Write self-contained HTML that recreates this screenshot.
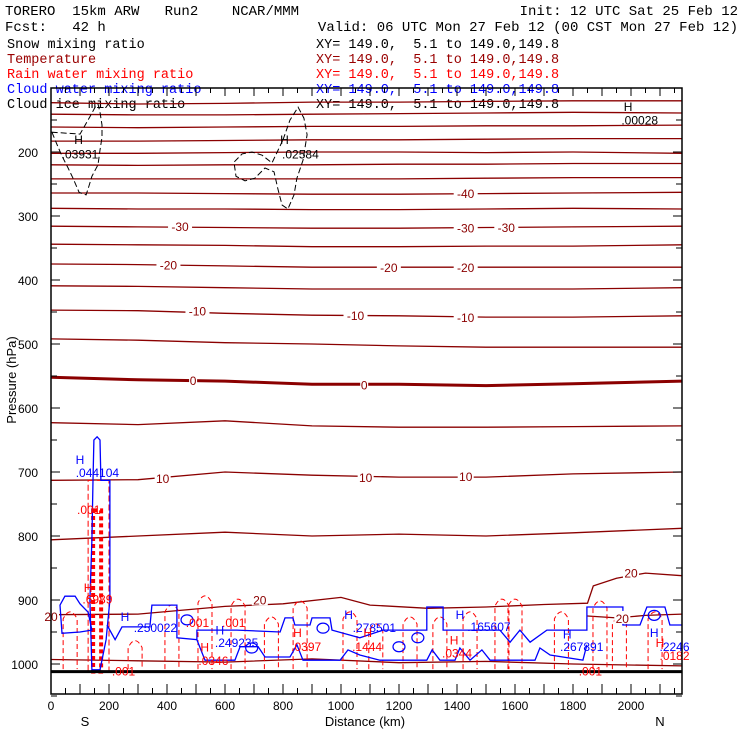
<!DOCTYPE html>
<html><head><meta charset="utf-8"><style>
html,body{margin:0;padding:0;background:#fff;}
svg{display:block;font-family:"Liberation Sans",sans-serif;}
.mono{font-family:"Liberation Mono",monospace;}
</style></head><body>
<svg id="chart" width="740" height="740" viewBox="0 0 740 740" xmlns="http://www.w3.org/2000/svg">
<rect width="740" height="740" fill="#fff"/>
<g class="mono" font-size="14">
<text x="5" y="15" xml:space="preserve">TORERO  15km ARW   Run2    NCAR/MMM</text>
<text x="738" y="15" text-anchor="end">Init: 12 UTC Sat 25 Feb 12</text>
<text x="5" y="31" xml:space="preserve">Fcst:   42 h</text>
<text x="738" y="31" text-anchor="end">Valid: 06 UTC Mon 27 Feb 12 (00 CST Mon 27 Feb 12)</text>
<g font-size="13.5">
<text x="7" y="48" fill="#000">Snow mixing ratio</text>
<text x="316" y="48" fill="#000" xml:space="preserve">XY= 149.0,  5.1 to 149.0,149.8</text>
<text x="7" y="63" fill="#990000">Temperature</text>
<text x="316" y="63" fill="#990000" xml:space="preserve">XY= 149.0,  5.1 to 149.0,149.8</text>
<text x="7" y="78" fill="#ff0000">Rain water mixing ratio</text>
<text x="316" y="78" fill="#ff0000" xml:space="preserve">XY= 149.0,  5.1 to 149.0,149.8</text>
<text x="7" y="93" fill="#0000ff">Cloud water mixing ratio</text>
<text x="316" y="93" fill="#0000ff" xml:space="preserve">XY= 149.0,  5.1 to 149.0,149.8</text>
<text x="7" y="108" fill="#000">Cloud ice mixing ratio</text>
<text x="316" y="108" fill="#000" xml:space="preserve">XY= 149.0,  5.1 to 149.0,149.8</text>
</g>
</g>
<g id="plot"></g>
<g id="axes"></g>
</svg>
<script>
// ---- data ----
const xSamples = [0, 300, 600, 900, 1200, 1500, 1800, 2176];
const tempLevels = [-75,-70,-65,-60,-55,-50,-45,-40,-35,-30,-25,-20,-15,-10,-5,0,5,10,15];
const tempP = [
 [123,125,124,122,122,121,120,120],
 [141,142,142,141,140,139,138,139],
 [161,162,161,160,160,159,159,158],
 [183,183,182,181,181,180,179,179],
 [202,202,201,200,200,201,200,202],
 [220,221,220,220,219,219,218,218],
 [242,242,242,242,242,241,240,240],
 [264,264,265,266,266,265,264,263],
 [288,289,289,290,290,289,288,289],
 [316,317,318,319,319,318,317,316],
 [344,345,346,348,348,347,347,345],
 [375,376,378,380,380,380,380,380],
 [409,410,412,414,414,414,414,412],
 [447,448,452,455,456,458,458,456],
 [492,494,498,500,503,505,505,505],
 [552,556,558,563,563,565,562,558],
 [623,626,620,628,630,630,629,628],
 [713,712,700,705,708,708,703,700],
 [806,800,794,800,797,800,795,788]
];
const t20Km = [0,300,600,800,1000,1100,1300,1500,1700,1850,1870,1950,2050,2176];
const t20P = [923,922,910,906,896,908,913,911,907,905,878,866,858,862];
const t20bKm = [1850,1950,2050,2176];
const t20bP = [925,928,924,922];
const t25Km = [0,300,600,900,1200,1500,1800,2176];
const t25P = [993,995,997,992,998,996,1000,1003];
const groundP = 1012;
const tempLabels = [[-40,1430,264],[-30,445,316],[-30,1430,318],[-30,1570,317],[-20,405,376],[-20,1165,380],[-20,1430,380],[-10,505,448],[-10,1050,455],[-10,1430,458],[0,490,556],[0,1080,563],[10,385,709],[10,1085,708],[10,1430,706],[20,720,899],[20,1970,928],[20,2000,857],[20,0,925]];
const iceKm1 = [3,24,41,59,76,97,121,131,141,162,169,176,176,169,162,152,134,100];
const iceP1 = [169,192,209,225,241,263,267,253,238,220,197,177,158,138,125,130,145,172];
const iceKm2 = [800,824,852,872,883,869,848,838,817,797,783,769,738,703,669,638,631,659,693,728,762,783];
const iceP2 = [181,150,130,147,173,213,241,267,289,283,259,231,225,241,245,238,216,203,200,205,217,197];
const cwColKm = [141,134,141,145,148,159,169,172,203,203,190,169];
const cwColP = [1009,900,806,713,650,645,650,713,713,900,962,1009];
const cwBlobKm = [38,31,48,83,100,128,141,100,38];
const cwBlobP = [952,908,894,894,906,919,947,950,952];
const cwUpKm = [193,221,245,341,348,434,434,503,503,559,641,790,807,834,841,893,900,962,969,1065,1145,1296,1296,1352,1352,1548,1583,1617,1652,1710,1848,1848,1972,1972,2031,2055,2117,2134,2176];
const cwUpP = [939,962,942,942,908,908,959,962,947,947,947,950,928,928,939,939,928,928,947,959,947,947,911,911,947,947,966,947,966,947,947,911,911,939,939,911,911,939,939];
const cwLoKm = [503,531,634,652,714,738,824,848,869,997,1024,1065,1134,1296,1314,1341,1393,1410,1445,1486,1514,1669,1686,1721,1834,1848];
const cwLoP = [962,994,994,973,973,989,989,970,994,994,978,986,994,994,978,994,994,975,994,978,994,994,975,986,994,970];
const cwCircKm = [469,938,1265,1200,692,2080];
const cwCircP = [931,944,959,973,975,924];
const rainSpikeKm = [66,290,417,531,645,760,859,1031,1120,1238,1341,1445,1555,1600,1760,1893,1960,2083];
const rainSpikeP = [917,962,906,892,897,925,900,917,936,925,925,917,897,897,917,900,925,917];
const rainColKm = [128,200];
const rainColP = [713,1012];
const cwLabels = [["H",100,680],[".044104",160,700],["H",255,925],[".250022",360,942],["H",582,946],[".249235",640,966],["H",1026,922],[".278501",1115,942],["H",1410,922],[".165607",1510,941],["H",1780,952],[".267891",1830,972],["H",2080,950],[".2246",2150,972]];
const rainLabels = [["H",128,880],[".6989",160,898],[".001",130,758],[".001",505,934],[".001",630,934],["H",850,950],[".0397",880,972],["H",530,973],[".0346",560,994],[".001",250,1010],["H",1092,950],[".1444",1090,972],["H",1390,962],[".0344",1400,982],[".001",1860,1010],["H",2100,966],[".0182",2150,986]];
const iceLabels = [["H",95,180],[".03931",100,202],["H",805,180],[".02584",860,202],["H",1990,128],[".00028",2030,149]];
const yTicks = [200,300,400,500,600,700,800,900,1000];
const xTicks = [0,200,400,600,800,1000,1200,1400,1600,1800,2000];

// ---- axes functions ----
const X0=51, X1=682, Y0=88, Y1=694;
const xs = km => X0 + km*0.29;
const yp = p => Y0 + (p-100)*0.64;
const NS='http://www.w3.org/2000/svg';
const plot=document.getElementById('plot');
const axes=document.getElementById('axes');
function el(tag, attrs, parent){const e=document.createElementNS(NS,tag);for(const k in attrs)e.setAttribute(k,attrs[k]);(parent||plot).appendChild(e);return e;}
function pts(km,p){return km.map((k,i)=>xs(k).toFixed(1)+','+yp(p[i]).toFixed(1)).join(' ');}

const defs=el('defs',{},plot);
const cp=el('clipPath',{id:'clip'},defs);
el('rect',{x:X0,y:Y0,width:X1-X0,height:Y1-Y0},cp);
const g=el('g',{'clip-path':'url(#clip)'},plot);

tempLevels.forEach((lv,i)=>{
  const l=el('polyline',{points:pts(xSamples,tempP[i]),fill:'none',stroke:'#8b0000','stroke-width':lv===0?3:1.3},g);
  
  
});
let l20=el('polyline',{points:pts(t20Km,t20P),fill:'none',stroke:'#8b0000','stroke-width':1.3},g);


let l20b=el('polyline',{points:pts(t20bKm,t20bP),fill:'none',stroke:'#8b0000','stroke-width':1.3},g);


let l25=el('polyline',{points:pts(t25Km,t25P),fill:'none',stroke:'#8b0000','stroke-width':1.3},g);



[[iceKm1,iceP1],[iceKm2,iceP2]].forEach((d,i)=>{
  const e=el('polygon',{points:pts(d[0],d[1]),fill:'none',stroke:'#000','stroke-width':1,'stroke-dasharray':'6,3'},g);
  
  
});

rainSpikeKm.forEach((k,i)=>{
  const w=14, top=yp(rainSpikeP[i]), bot=yp(1008), cx=xs(k);
  const e=el('path',{d:`M${cx-w/2},${bot} L${cx-w/2},${top+8} Q${cx},${top-6} ${cx+w/2},${top+8} L${cx+w/2},${bot}`,fill:'none',stroke:'#ff0000','stroke-width':1,'stroke-dasharray':'5,3'},g);
  
  
});
let rc=el('rect',{x:xs(rainColKm[0]),y:yp(rainColP[0]),width:xs(rainColKm[1])-xs(rainColKm[0]),height:yp(rainColP[1])-yp(rainColP[0]),fill:'none',stroke:'#ff0000','stroke-width':1,'stroke-dasharray':'6,3'},g);


let rcc=el('rect',{x:xs(rainColKm[0])+5,y:yp(760),width:8,height:yp(1012)-yp(760),fill:'none',stroke:'#ff0000','stroke-width':4,'stroke-dasharray':'4,3'},g);



[[cwColKm,cwColP,'polygon','cloud-water-column'],[cwBlobKm,cwBlobP,'polygon','cloud-water-blob'],[cwUpKm,cwUpP,'polyline','cloud-water-upper'],[cwLoKm,cwLoP,'polyline','cloud-water-lower']].forEach(d=>{
  const e=el(d[2],{points:pts(d[0],d[1]),fill:'none',stroke:'#0000ff','stroke-width':1.3},g);
  
  
});
cwCircKm.forEach((k,i)=>{
  const e=el('ellipse',{cx:xs(k),cy:yp(cwCircP[i]),rx:6,ry:5,fill:'none',stroke:'#0000ff','stroke-width':1.2},g);
  
  
});

let gl=el('line',{x1:X0,x2:X1,y1:yp(groundP),y2:yp(groundP),stroke:'#000','stroke-width':3});



function lab(txt,k,p,col,bg){
  if(bg){const r=el('rect',{x:xs(k)-txt.length*4,y:yp(p)-7,width:txt.length*8,height:13,fill:'#fff'});
    
    }
  const t=el('text',{x:xs(k),y:yp(p)+5,'text-anchor':'middle','font-size':12,fill:col});
  t.textContent=txt;
  return t;
}
tempLabels.forEach(d=>{
  const t=lab(String(d[0]),d[1],d[2],'#8b0000',true);
  
  
});
cwLabels.forEach(d=>{
  const t=lab(d[0],d[1],d[2],'#0000ff',false);
  
  
});
rainLabels.forEach(d=>{
  const t=lab(d[0],d[1],d[2],'#ff0000',false);
  
  
});
iceLabels.forEach(d=>{
  const t=lab(d[0],d[1],d[2],'#000',false);
  
  
});

let fr=el('rect',{x:X0,y:Y0,width:X1-X0,height:Y1-Y0,fill:'none',stroke:'#000','stroke-width':1.5},axes);


for(let p=150;p<=1050;p+=50){
  const major=p%100===0;
  el('line',{x1:X0,x2:X0+(major?9:6),y1:yp(p),y2:yp(p),stroke:'#000','stroke-width':1},axes);
  el('line',{x1:X1,x2:X1-(major?9:6),y1:yp(p),y2:yp(p),stroke:'#000','stroke-width':1},axes);
}
for(let k=50;k<2176;k+=50){
  const major=k%100===0;
  el('line',{x1:xs(k),x2:xs(k),y1:Y1,y2:Y1-(major?10:6),stroke:'#000','stroke-width':1},axes);
  el('line',{x1:xs(k),x2:xs(k),y1:Y0,y2:Y0+(major?8:5),stroke:'#000','stroke-width':1},axes);
}
yTicks.forEach(v=>{
  const t=el('text',{x:38,y:yp(v)+5,'text-anchor':'end','font-size':12,fill:'#000'},axes);
  t.textContent=v;
  
  
});
xTicks.forEach(v=>{
  const t=el('text',{x:xs(v),y:710,'text-anchor':'middle','font-size':12,fill:'#000'},axes);
  t.textContent=v;
  
  
});
let yt=el('text',{x:0,y:0,transform:'translate(16,380) rotate(-90)','text-anchor':'middle','font-size':13,fill:'#000'},axes);
yt.textContent='Pressure (hPa)';


let xt=el('text',{x:365,y:726,'text-anchor':'middle','font-size':13,fill:'#000'},axes);
xt.textContent='Distance (km)';


let sl=el('text',{x:85,y:726,'text-anchor':'middle','font-size':13,fill:'#000'},axes);
sl.textContent='S';


let nl=el('text',{x:660,y:726,'text-anchor':'middle','font-size':13,fill:'#000'},axes);
nl.textContent='N';


</script>
</body></html>
